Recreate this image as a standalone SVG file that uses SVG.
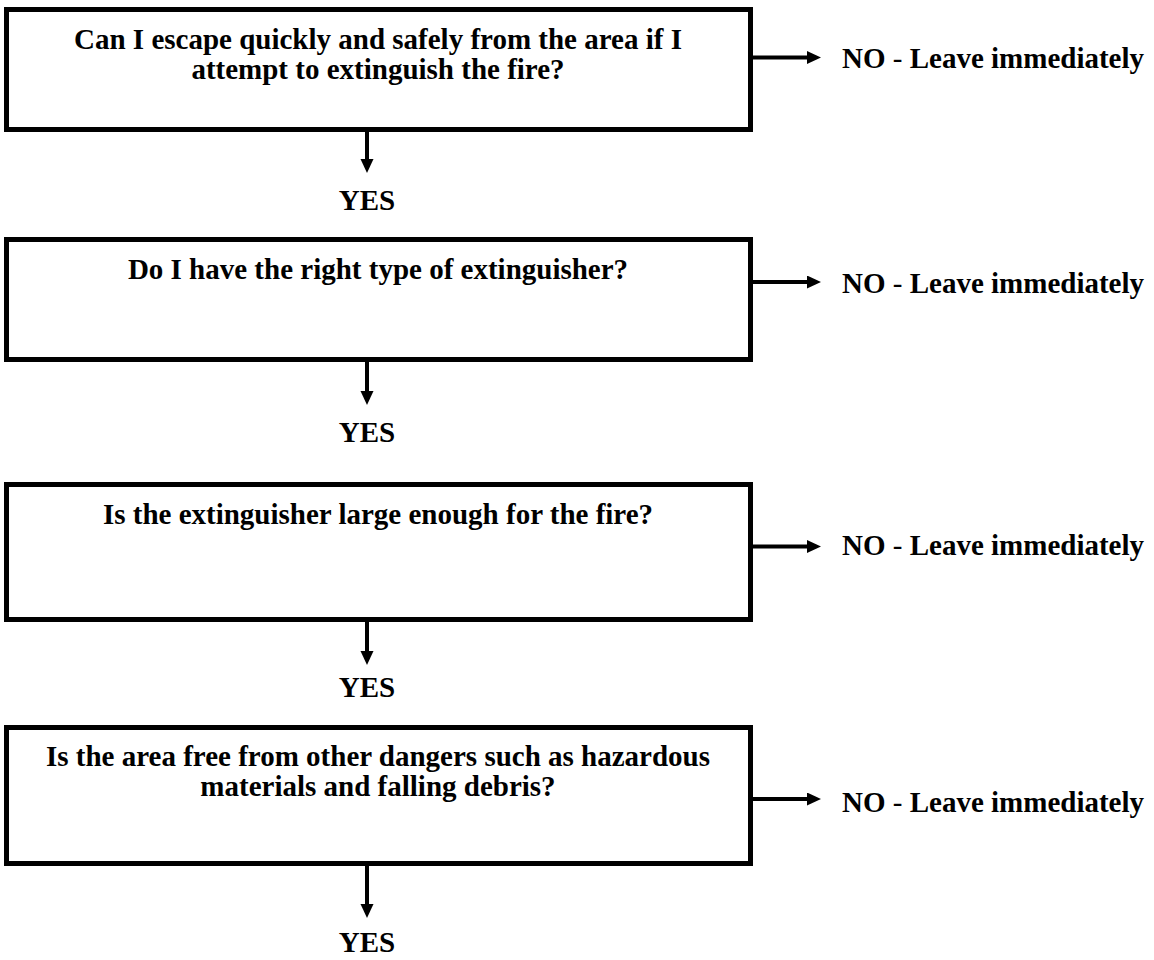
<svg xmlns="http://www.w3.org/2000/svg" width="1154" height="960" viewBox="0 0 1154 960">
<defs>
<style>
.box{fill:#fff;stroke:#000;stroke-width:5}
.t{font-family:"Liberation Serif","Times New Roman",serif;font-weight:bold;font-size:29px;fill:#000}
.q{text-anchor:middle}
.h{font-weight:normal}
.c{stroke:#000;stroke-width:4;fill:none}
</style>
<marker id="ah" markerUnits="userSpaceOnUse" markerWidth="15" markerHeight="14" refX="2" refY="6.5" orient="auto">
<path d="M0,0 L14,6.5 L0,13 z" fill="#000"/>
</marker>
</defs>
<rect width="1154" height="960" fill="#fff"/>
<g id="connectors">
<line class="c" x1="367" y1="132" x2="367" y2="161" marker-end="url(#ah)"/>
<line class="c" x1="367" y1="362" x2="367" y2="393" marker-end="url(#ah)"/>
<line class="c" x1="367" y1="622" x2="367" y2="653" marker-end="url(#ah)"/>
<line class="c" x1="367" y1="866" x2="367" y2="906" marker-end="url(#ah)"/>
<line class="c" x1="752" y1="57.5" x2="809" y2="57.5" marker-end="url(#ah)"/>
<line class="c" x1="752" y1="282" x2="809" y2="282" marker-end="url(#ah)"/>
<line class="c" x1="752" y1="546.5" x2="809" y2="546.5" marker-end="url(#ah)"/>
<line class="c" x1="752" y1="799" x2="809" y2="799" marker-end="url(#ah)"/>
</g>
<g id="q1">
<rect class="box" x="6.5" y="9.5" width="744" height="120"/>
<text class="t q" x="378" y="49">Can I escape quickly and safely from the area if I</text>
<text class="t q" x="378" y="79">attempt to extinguish the fire?</text>
</g>
<g id="q2">
<rect class="box" x="6.5" y="239.5" width="744" height="120"/>
<text class="t q" x="378" y="279">Do I have the right type of extinguisher?</text>
</g>
<g id="q3">
<rect class="box" x="6.5" y="484.5" width="744" height="135"/>
<text class="t q" x="378" y="524">Is the extinguisher large enough for the fire?</text>
</g>
<g id="q4">
<rect class="box" x="6.5" y="727.5" width="744" height="136"/>
<text class="t q" x="378" y="766">Is the area free from other dangers such as hazardous</text>
<text class="t q" x="378" y="796">materials and falling debris?</text>
</g>
<g id="yes1"><text class="t q" x="367" y="210">YES</text></g>
<g id="yes2"><text class="t q" x="367" y="442">YES</text></g>
<g id="yes3"><text class="t q" x="367" y="697">YES</text></g>
<g id="yes4"><text class="t q" x="367" y="952">YES</text></g>
<g id="no1"><text class="t" x="842" y="68">NO <tspan class="h">-</tspan> Leave immediately</text></g>
<g id="no2"><text class="t" x="842" y="293">NO <tspan class="h">-</tspan> Leave immediately</text></g>
<g id="no3"><text class="t" x="842" y="555">NO <tspan class="h">-</tspan> Leave immediately</text></g>
<g id="no4"><text class="t" x="842" y="812">NO <tspan class="h">-</tspan> Leave immediately</text></g>
</svg>
